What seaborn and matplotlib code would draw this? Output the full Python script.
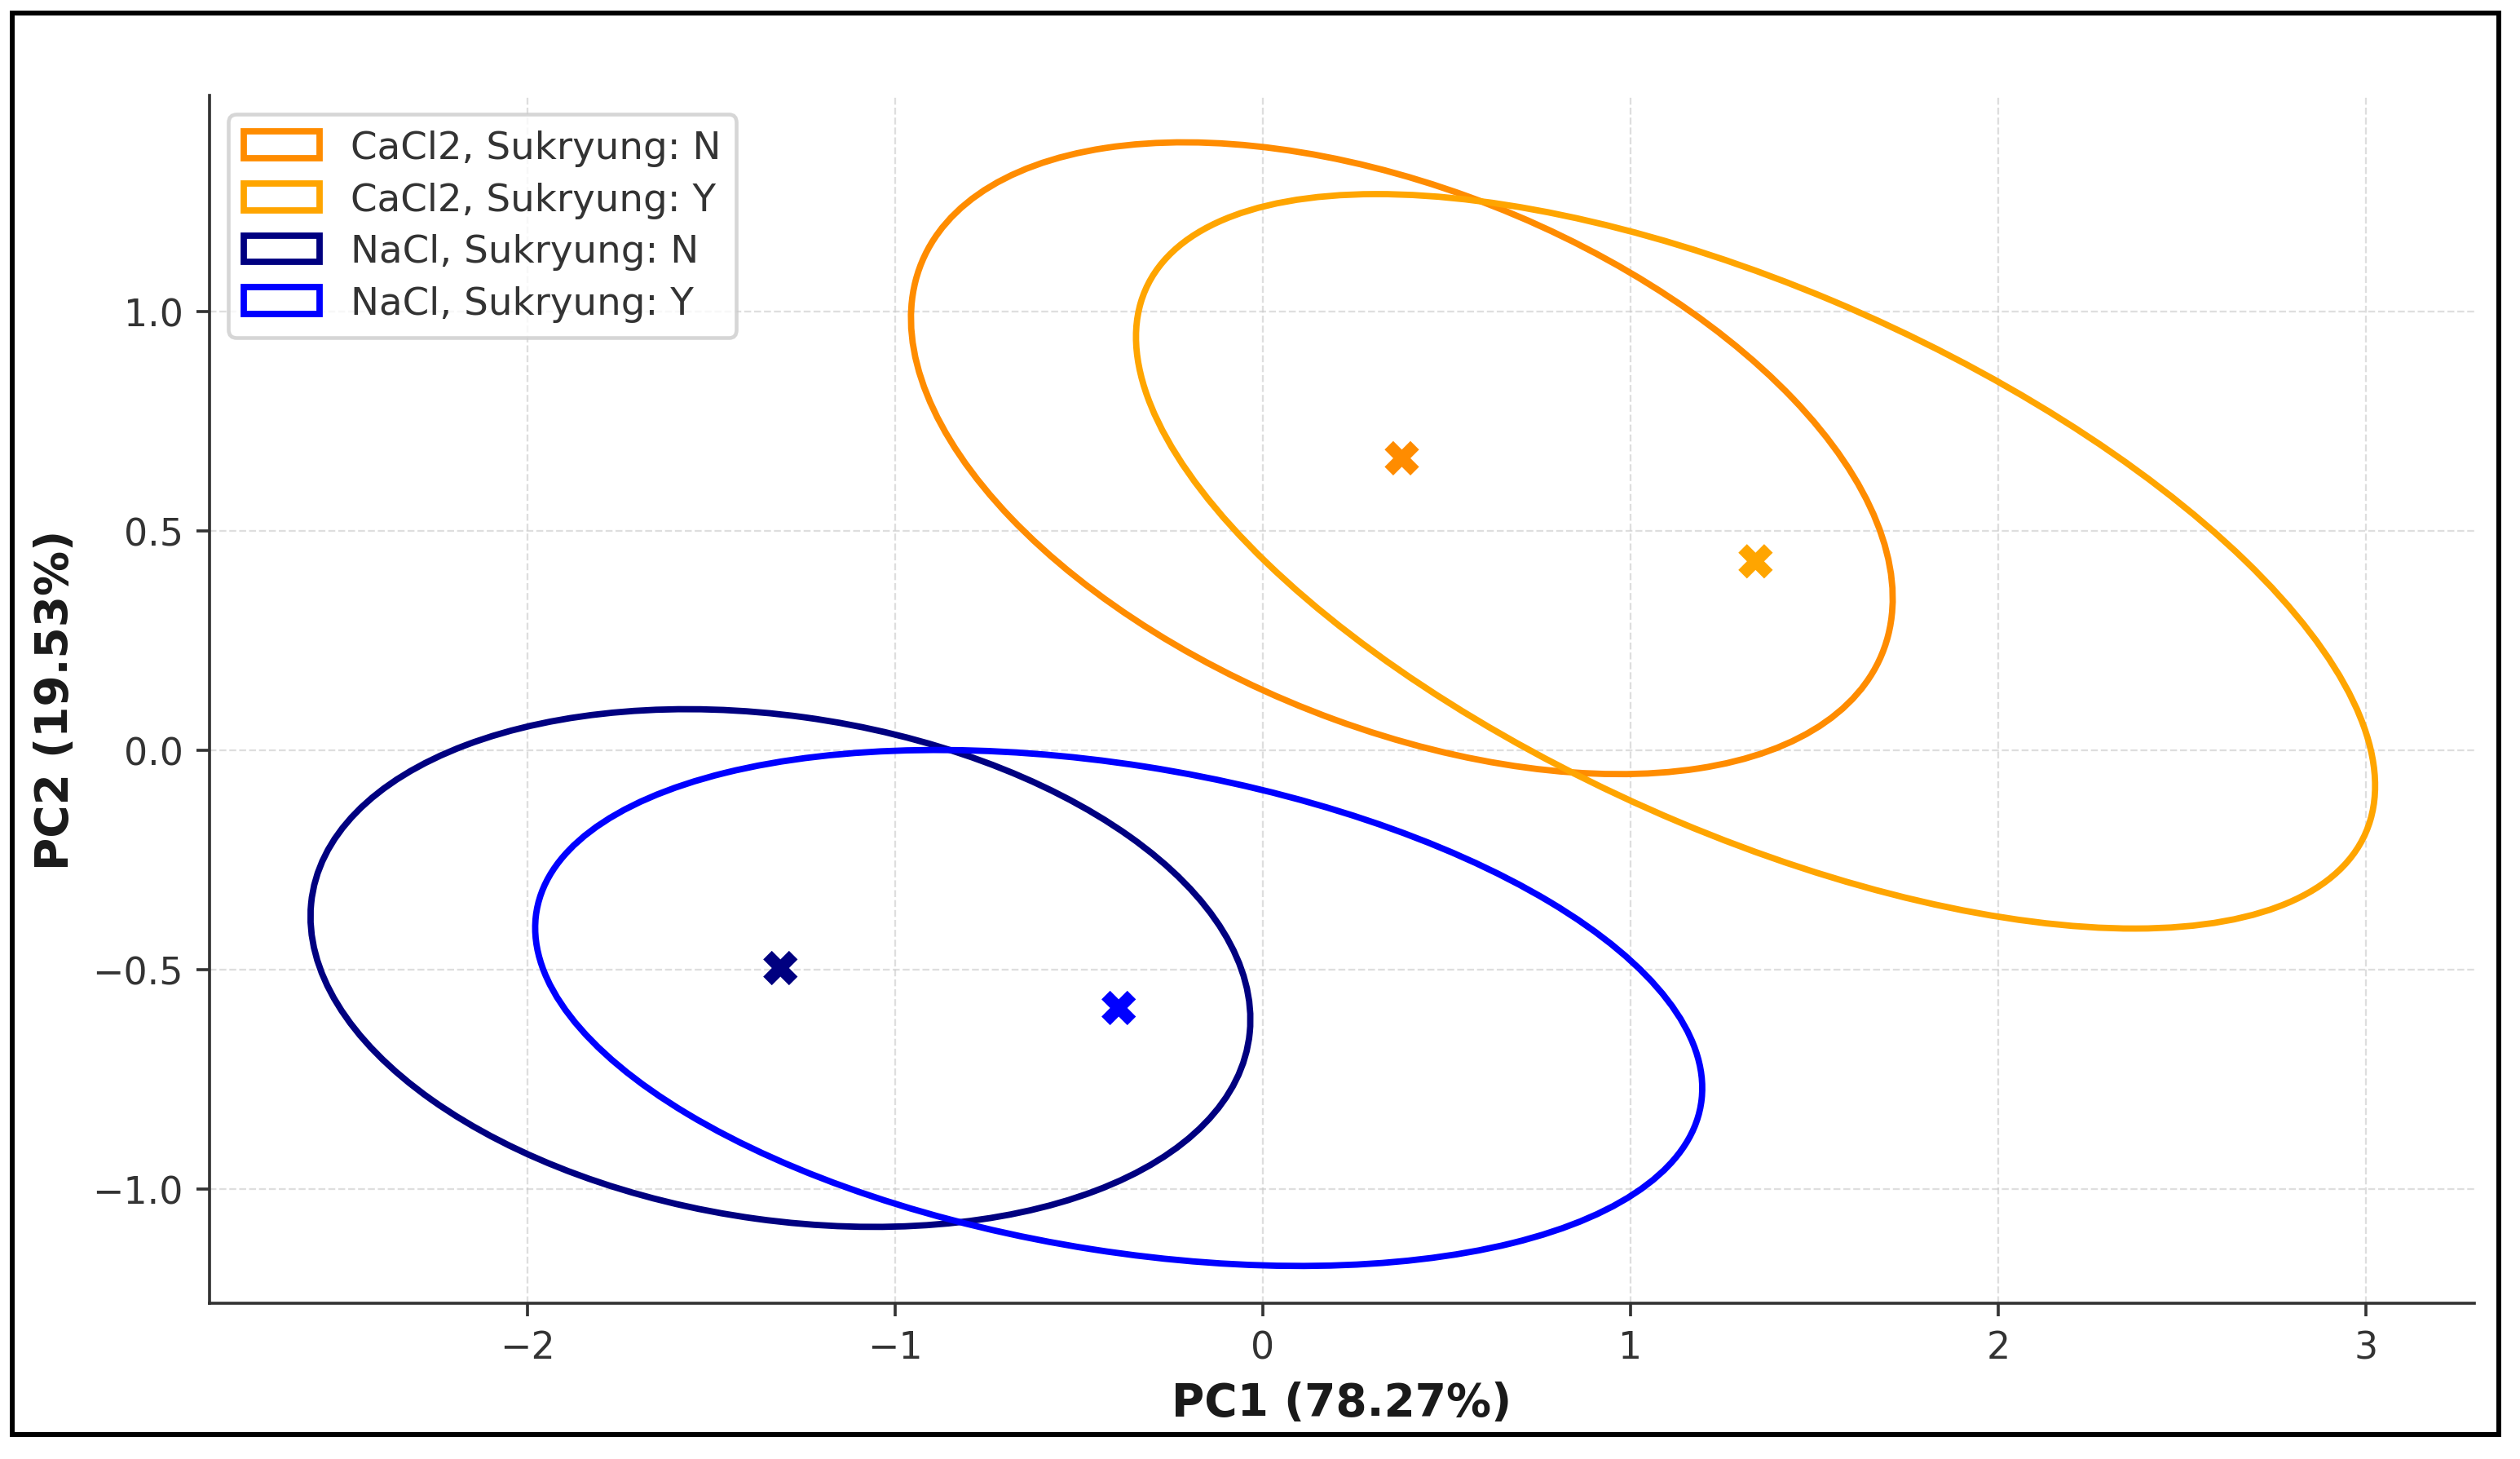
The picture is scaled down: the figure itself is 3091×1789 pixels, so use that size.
import numpy as np
import pandas as pd
import seaborn as sns
import matplotlib
matplotlib.use("Agg")
import matplotlib.pyplot as plt
from matplotlib.patches import Ellipse, Patch, Rectangle

GROUPS = [
    "CaCl2, Sukryung: N", "CaCl2, Sukryung: Y",
    "NaCl, Sukryung: N", "NaCl, Sukryung: Y",
]
COLORS = ["darkorange", "orange", "navy", "blue"]

# group means on the first two PCs
PC1_MEAN = [0.378, 1.340, -1.312, -0.392]
PC2_MEAN = [0.665, 0.430, -0.497, -0.588]

# confidence ellipse shape: half extent along PC1 / PC2 and the cross term
HALF_X = [1.335, 1.685, 1.278, 1.587]
HALF_Y = [0.720, 0.837, 0.590, 0.588]
CROSS = [-0.426, -0.862, -0.150, -0.290]

df = pd.DataFrame({"Group": GROUPS, "PC1": PC1_MEAN, "PC2": PC2_MEAN})

sns.set_style("ticks")
fig = plt.figure(figsize=(3091 / 330, 1790 / 330), dpi=330)
ax = fig.add_axes([0.0831, 0.1067, 0.9819 - 0.0831, 0.9341 - 0.1067])

for i, g in enumerate(GROUPS):
    m = np.array([[HALF_X[i] ** 2, CROSS[i]], [CROSS[i], HALF_Y[i] ** 2]])
    vals, vecs = np.linalg.eigh(m)
    order = vals.argsort()[::-1]
    vals, vecs = vals[order], vecs[:, order]
    angle = np.degrees(np.arctan2(vecs[1, 0], vecs[0, 0]))
    ell = Ellipse((PC1_MEAN[i], PC2_MEAN[i]), 2 * np.sqrt(vals[0]), 2 * np.sqrt(vals[1]),
                  angle=angle, facecolor="none", edgecolor=COLORS[i], linewidth=1.7)
    ax.add_patch(ell)

sns.scatterplot(data=df, x="PC1", y="PC2", hue="Group", palette=COLORS,
                marker="X", s=85, linewidth=0, legend=False, ax=ax, zorder=3)

ax.set_xlim(-2.865, 3.295)
ax.set_ylim(-1.261, 1.492)
ax.set_xticks([-2, -1, 0, 1, 2, 3])
ax.set_yticks([-1.0, -0.5, 0.0, 0.5, 1.0])
ax.tick_params(labelsize=10, length=3.5, width=0.8, colors="0.2")
ax.grid(True, linestyle="--", linewidth=0.5, color="#c8c8c8", alpha=0.6)
sns.despine(ax=ax)
for s in ["left", "bottom"]:
    ax.spines[s].set_color("0.2")
ax.set_xlabel("PC1 (78.27%)", fontsize=12, fontweight="bold", color="0.1")
ax.set_ylabel("PC2 (19.53%)", fontsize=12, fontweight="bold", color="0.1")

handles = [Patch(facecolor="none", edgecolor=c, linewidth=1.7) for c in COLORS]
leg = ax.legend(handles, GROUPS, loc="upper left", fontsize=10.2, frameon=True,
                framealpha=0.8, edgecolor="0.8", fancybox=True, labelspacing=0.4)
for t in leg.get_texts():
    t.set_color("0.2")

fig.add_artist(Rectangle((0.00485, 0.0168), 0.9916 - 0.00485, 0.9905 - 0.0168,
                         transform=fig.transFigure, fill=False,
                         edgecolor="black", linewidth=1.3))

fig.savefig("out.png", dpi=330)
